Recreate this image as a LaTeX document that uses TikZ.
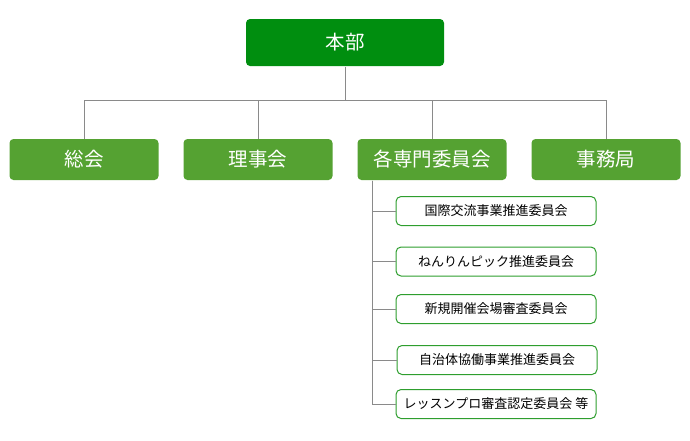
\documentclass[tikz,border=0pt]{standalone}
\usepackage{fontspec}
\setmainfont{Noto Sans CJK JP}
\usepackage{tikz}
\usetikzlibrary{positioning}

\definecolor{hqgreen}{HTML}{008E0F}
\definecolor{midgreen}{HTML}{55A232}
\definecolor{edgegreen}{HTML}{2E9E2E}
\definecolor{linegray}{HTML}{8A8A8A}

\begin{document}
\begin{tikzpicture}[x=1pt,y=-1pt,line width=1pt,
                    top node/.style={rectangle,rounded corners=4pt,fill=hqgreen,text=white,minimum width=198pt,minimum height=47pt,inner sep=0pt,font=\fontsize{19.5}{22}\selectfont},
                    main node/.style={rectangle,rounded corners=4pt,fill=midgreen,text=white,minimum width=149pt,minimum height=41pt,inner sep=0pt,font=\fontsize{19.5}{22}\selectfont},
                    sub node/.style={rectangle,rounded corners=5pt,draw=edgegreen,fill=white,text=black,minimum width=200pt,minimum height=29pt,inner sep=0pt,font=\fontsize{13}{15}\selectfont},
                    link/.style={draw=linegray}]
  \useasboundingbox (0,0) rectangle (690,440);

  \node[top node] (hq) at (345,42.5) {本部};

  \node[main node] (soukai) at (84,159.5) {総会};
  \node[main node] (rijikai) at (258,159.5) {理事会};
  \node[main node] (senmon) at (432,159.5) {各専門委員会};
  \node[main node] (jimukyoku) at (606,159.5) {事務局};

  \node[sub node] (c1) at (496,211) {国際交流事業推進委員会};
  \node[sub node] (c2) at (496,261.5) {ねんりんピック推進委員会};
  \node[sub node] (c3) at (496,309) {新規開催会場審査委員会};
  \node[sub node] (c4) at (497,360) {自治体協働事業推進委員会};
  \node[sub node] (c5) at (496,404) {レッスンプロ審査認定委員会 等};

  \coordinate (bus) at (345,100);
  \coordinate (trunk) at ([xshift=15pt]senmon.south west);

  % upper tree
  \draw[link] (hq.south) -- (bus);
  \draw[link] (bus) -| (soukai.north);
  \draw[link] (bus) -| (rijikai.north);
  \draw[link] (bus) -| (senmon.north);
  \draw[link] (bus) -| (jimukyoku.north);

  % committees
  \foreach \c in {c1,c2,c3,c4,c5}
    \draw[link] (trunk) |- (\c.west);
\end{tikzpicture}
\end{document}
